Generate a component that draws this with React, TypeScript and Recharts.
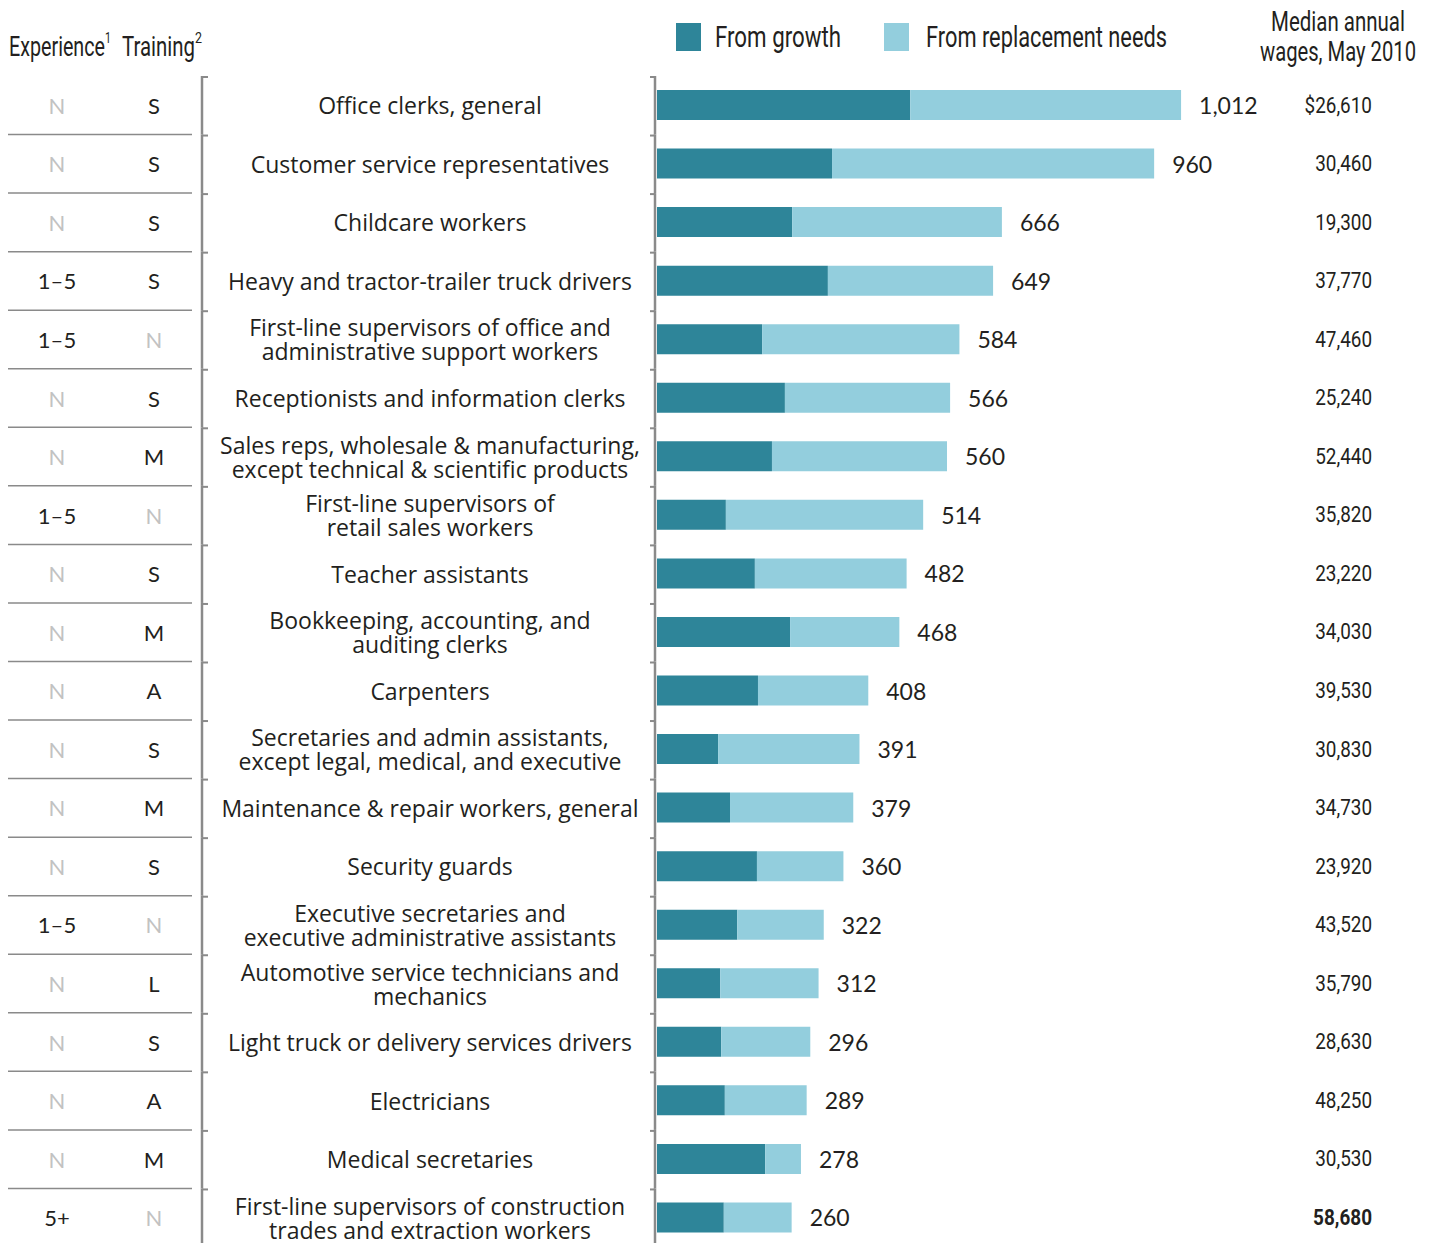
import React from "react";
import { BarChart, Bar, XAxis, YAxis, LabelList, Legend } from "recharts";

const occupations = [
  "Office clerks, general",
  "Customer service representatives",
  "Childcare workers",
  "Heavy and tractor-trailer truck drivers",
  "First-line supervisors of office and\nadministrative support workers",
  "Receptionists and information clerks",
  "Sales reps, wholesale & manufacturing,\nexcept technical & scientific products",
  "First-line supervisors of\nretail sales workers",
  "Teacher assistants",
  "Bookkeeping, accounting, and\nauditing clerks",
  "Carpenters",
  "Secretaries and admin assistants,\nexcept legal, medical, and executive",
  "Maintenance & repair workers, general",
  "Security guards",
  "Executive secretaries and\nexecutive administrative assistants",
  "Automotive service technicians and\nmechanics",
  "Light truck or delivery services drivers",
  "Electricians",
  "Medical secretaries",
  "First-line supervisors of construction\ntrades and extraction workers",
];

const experience = ["N", "N", "N", "1–5", "1–5", "N", "N", "1–5", "N", "N", "N", "N", "N", "N", "1–5", "N", "N", "N", "N", "5+"];
const training = ["S", "S", "S", "S", "N", "S", "M", "N", "S", "M", "A", "S", "M", "S", "N", "L", "S", "A", "M", "N"];

const growth = [489, 338, 261, 330, 203, 247, 222, 133, 189, 257, 195, 118, 141, 193, 155, 122, 124, 131, 209, 129];
const replacement = [523, 622, 405, 319, 381, 319, 338, 381, 293, 211, 213, 273, 238, 167, 167, 190, 172, 158, 69, 131];
const totals = [1012, 960, 666, 649, 584, 566, 560, 514, 482, 468, 408, 391, 379, 360, 322, 312, 296, 289, 278, 260];

const wages = ["$26,610", "30,460", "19,300", "37,770", "47,460", "25,240", "52,440", "35,820", "23,220", "34,030", "39,530", "30,830", "34,730", "23,920", "43,520", "35,790", "28,630", "48,250", "30,530", "58,680"];

const data = occupations.map((name, i) => ({
  name,
  exp: experience[i],
  train: training[i],
  growth: growth[i],
  replacement: replacement[i],
  total: totals[i],
  wage: wages[i],
}));

const W = 1432;
const H = 1247;
const TOP = 76;
const ROW = (H - TOP) / data.length;

const MAIN = "Lato, sans-serif";
const LABEL = "'Open Sans', sans-serif";
const NARROW = "Roboto, sans-serif";
const INK = "#231f20";
const GROWTH = "#2e8599";
const REPL = "#93cedd";
const RULE = "#8a8a8a";

// condensed text: squeeze a normal font to the given width
const Squeezed = ({ x, y, w, size, anchor = "start", weight = "normal", children }: any) => (
  <text x={x} y={y} textAnchor={anchor} fontFamily={NARROW} fontSize={size} fontWeight={weight} fill={INK}
    textLength={w} lengthAdjust="spacingAndGlyphs">
    {children}
  </text>
);

const RowTick = (props: any) => {
  const { y, payload } = props;
  const i = occupations.indexOf(payload.value);
  const lines = String(payload.value).split("\n");
  const last = i === data.length - 1;
  const top = y - ROW / 2;
  const bottom = y + ROW / 2;
  return (
    <g>
      {lines.map((ln, k) => (
        <text
          key={k}
          x={430}
          y={y + (k - (lines.length - 1) / 2) * 24}
          textAnchor="middle"
          dominantBaseline="central"
          fontFamily={LABEL}
          fontSize={23}
          fill={INK}
        >
          {ln}
        </text>
      ))}
      <text x={57} y={y} textAnchor="middle" dominantBaseline="central" fontFamily={MAIN} fontSize={22}
        fill={experience[i] === "N" ? "#c2c2c2" : INK}>
        {experience[i]}
      </text>
      <text x={154} y={y} textAnchor="middle" dominantBaseline="central" fontFamily={MAIN} fontSize={22}
        fill={training[i] === "N" ? "#c2c2c2" : INK}>
        {training[i]}
      </text>
      {!last && <line x1={8} x2={192} y1={bottom} y2={bottom} stroke={RULE} strokeWidth={1.5} />}
      <line x1={202} x2={202} y1={top} y2={bottom} stroke={RULE} strokeWidth={2.5} />
      <line x1={202} x2={208} y1={top + 1} y2={top + 1} stroke={RULE} strokeWidth={2} />
      <line x1={655} x2={655} y1={top} y2={bottom} stroke={RULE} strokeWidth={2.5} />
      <line x1={650} x2={655} y1={top + 1} y2={top + 1} stroke={RULE} strokeWidth={2} />
    </g>
  );
};

const TotalLabel = (props: any) => {
  const { x, y, width, height, value } = props;
  return (
    <text x={x + width + 18} y={y + height / 2} dominantBaseline="central" fontFamily={MAIN} fontSize={23} fill={INK}>
      {Number(value).toLocaleString("en-US")}
    </text>
  );
};

const WageLabel = (props: any) => {
  const { y, height, value, index } = props;
  const bold = index === data.length - 1;
  const cy = y + height / 2;
  return (
    <g transform={`translate(1372, ${cy}) scale(0.86, 1)`}>
      <text x={0} y={0} textAnchor="end" dominantBaseline="central" fontFamily={NARROW} fontSize={22}
        fontWeight={bold ? "bold" : "normal"} fill={INK}>
        {value}
      </text>
    </g>
  );
};

const LegendBox = () => (
  <svg width={W} height={70} style={{ display: "block" }}>
    <rect x={676} y={23} width={25} height={28} fill={GROWTH} />
    <Squeezed x={715} y={47} w={126} size={29}>From growth</Squeezed>
    <rect x={884} y={23} width={25} height={28} fill={REPL} />
    <Squeezed x={926} y={47} w={241} size={29}>From replacement needs</Squeezed>
  </svg>
);

export default function App() {
  return (
    <div style={{ position: "absolute", left: 0, top: 0, width: W, height: 1243, overflow: "hidden", background: "#fff" }}>
      <svg width={W} height={70} style={{ position: "absolute", left: 0, top: 0 }}>
        <Squeezed x={9} y={56} w={96} size={27}>Experience</Squeezed>
        <Squeezed x={105} y={43} w={6} size={14}>1</Squeezed>
        <Squeezed x={122} y={56} w={73} size={27}>Training</Squeezed>
        <Squeezed x={195} y={43} w={7} size={14}>2</Squeezed>
        <Squeezed x={1338} y={31} w={134} size={27} anchor="middle">Median annual</Squeezed>
        <Squeezed x={1338} y={61} w={156} size={27} anchor="middle">wages, May 2010</Squeezed>
      </svg>
      <BarChart width={W} height={H} data={data} layout="vertical" margin={{ top: TOP, right: 50, left: 0, bottom: 0 }}>
        <XAxis type="number" hide domain={[0, 1400]} />
        <YAxis type="category" dataKey="name" width={657} axisLine={false} tickLine={false} interval={0} tick={<RowTick />} />
        <Legend
          layout="horizontal"
          verticalAlign="middle"
          align="center"
          content={<LegendBox />}
          wrapperStyle={{ top: 0, left: 0, width: W, height: 70 }}
        />
        <Bar dataKey="growth" stackId="a" fill={GROWTH} barSize={30} isAnimationActive={false} name="From growth" />
        <Bar dataKey="replacement" stackId="a" fill={REPL} barSize={30} isAnimationActive={false} name="From replacement needs">
          <LabelList dataKey="total" content={<TotalLabel />} />
          <LabelList dataKey="wage" content={<WageLabel />} />
        </Bar>
      </BarChart>
    </div>
  );
}
